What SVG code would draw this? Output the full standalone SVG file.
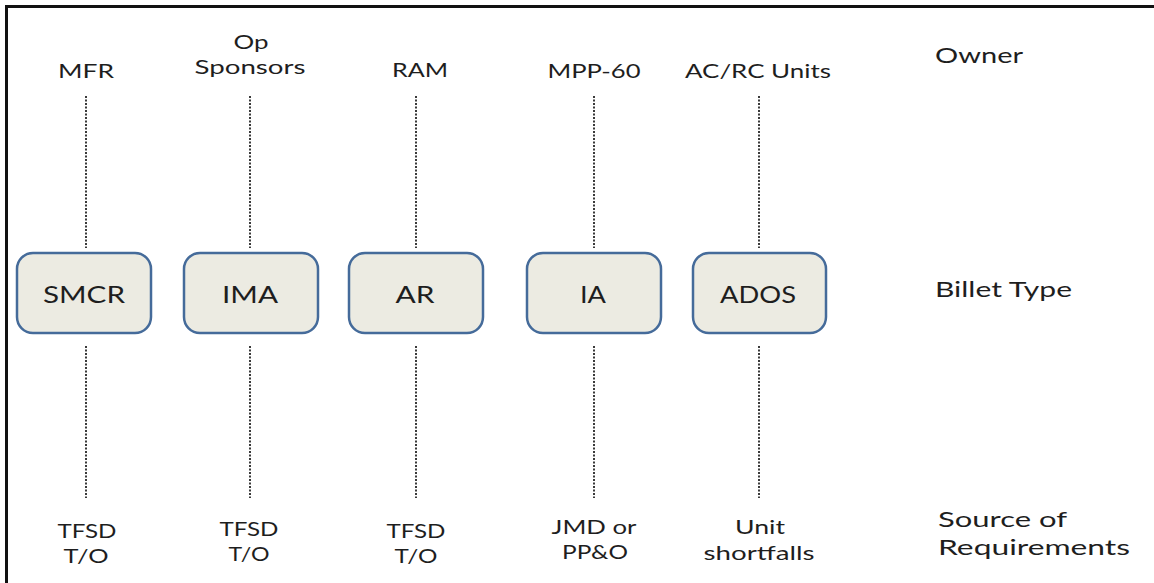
<svg xmlns="http://www.w3.org/2000/svg" width="1154" height="583" viewBox="0 0 1154 583">
<style>
text{font-family:Lato,"Open Sans","Liberation Sans",sans-serif;fill:#1e1e1e}
.t{text-anchor:middle;font-size:20px}
.h{font-size:22px}
.b{text-anchor:middle;font-size:24px}
.box{fill:#ecebe2;stroke:#456b9a;stroke-width:2.5}
.c{stroke:#3a3a3a;stroke-width:2;stroke-dasharray:2 1.5;fill:none}
</style>
<rect width="1154" height="583" fill="#fff"/>
<path d="M6.5 583 V6.5 H1154" fill="none" stroke="#111" stroke-width="3"/>
<g id="connectors">
<line class="c" x1="86" y1="96" x2="86" y2="248"/>
<line class="c" x1="86" y1="346" x2="86" y2="498"/>
<line class="c" x1="250" y1="96" x2="250" y2="248"/>
<line class="c" x1="250" y1="346" x2="250" y2="498"/>
<line class="c" x1="416" y1="96" x2="416" y2="248"/>
<line class="c" x1="416" y1="346" x2="416" y2="498"/>
<line class="c" x1="594" y1="96" x2="594" y2="248"/>
<line class="c" x1="594" y1="346" x2="594" y2="498"/>
<line class="c" x1="759" y1="96" x2="759" y2="248"/>
<line class="c" x1="759" y1="346" x2="759" y2="498"/>
</g>
<g id="smcr"><rect class="box" x="17" y="253" width="134" height="80" rx="16"/><text class="b" x="84" y="303" textLength="82" lengthAdjust="spacingAndGlyphs">SMCR</text></g>
<g id="ima"><rect class="box" x="184" y="253" width="134" height="80" rx="16"/><text class="b" x="250" y="303" textLength="56" lengthAdjust="spacingAndGlyphs">IMA</text></g>
<g id="ar"><rect class="box" x="349" y="253" width="134" height="80" rx="16"/><text class="b" x="415" y="303" textLength="39" lengthAdjust="spacingAndGlyphs">AR</text></g>
<g id="ia"><rect class="box" x="527" y="253" width="134" height="80" rx="16"/><text class="b" x="593" y="303" textLength="26" lengthAdjust="spacingAndGlyphs">IA</text></g>
<g id="ados"><rect class="box" x="693" y="253" width="133" height="80" rx="16"/><text class="b" x="758" y="303" textLength="76" lengthAdjust="spacingAndGlyphs">ADOS</text></g>
<g id="owners">
<text class="t" x="86" y="78" textLength="56" lengthAdjust="spacingAndGlyphs">MFR</text>
<text class="t" x="251" y="49" textLength="35" lengthAdjust="spacingAndGlyphs">Op</text>
<text class="t" x="250" y="74" textLength="111" lengthAdjust="spacingAndGlyphs">Sponsors</text>
<text class="t" x="420" y="77" textLength="56" lengthAdjust="spacingAndGlyphs">RAM</text>
<text class="t" x="594" y="78" textLength="93" lengthAdjust="spacingAndGlyphs">MPP-60</text>
<text class="t" x="758" y="78" textLength="146" lengthAdjust="spacingAndGlyphs">AC/RC Units</text>
</g>
<g id="sources">
<text class="t" x="87" y="538" textLength="59" lengthAdjust="spacingAndGlyphs">TFSD</text>
<text class="t" x="86" y="563" textLength="45" lengthAdjust="spacingAndGlyphs">T/O</text>
<text class="t" x="249" y="536" textLength="59" lengthAdjust="spacingAndGlyphs">TFSD</text>
<text class="t" x="249" y="561" textLength="41" lengthAdjust="spacingAndGlyphs">T/O</text>
<text class="t" x="416" y="538" textLength="59" lengthAdjust="spacingAndGlyphs">TFSD</text>
<text class="t" x="416" y="563" textLength="43" lengthAdjust="spacingAndGlyphs">T/O</text>
<text class="t" x="594" y="534" textLength="85" lengthAdjust="spacingAndGlyphs">JMD or</text>
<text class="t" x="595" y="559" textLength="66" lengthAdjust="spacingAndGlyphs">PP&amp;O</text>
<text class="t" x="760" y="534" textLength="50" lengthAdjust="spacingAndGlyphs">Unit</text>
<text class="t" x="759" y="560" textLength="111" lengthAdjust="spacingAndGlyphs">shortfalls</text>
</g>
<g id="row-labels">
<text class="h" x="935" y="63" textLength="88" lengthAdjust="spacingAndGlyphs">Owner</text>
<text class="h" x="935" y="297" textLength="137" lengthAdjust="spacingAndGlyphs">Billet Type</text>
<text class="h" x="938" y="527" textLength="129" lengthAdjust="spacingAndGlyphs">Source of</text>
<text class="h" x="938" y="555" textLength="192" lengthAdjust="spacingAndGlyphs">Requirements</text>
</g>
</svg>
